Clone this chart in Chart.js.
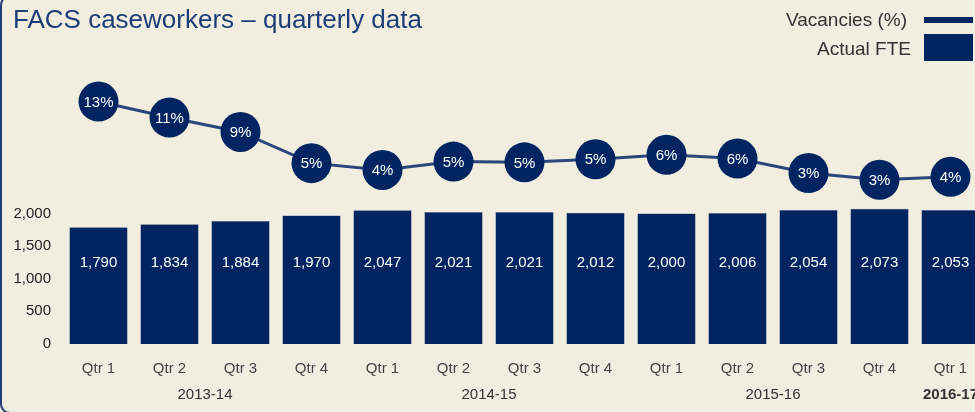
<!DOCTYPE html>
<html>
<head>
<meta charset="utf-8">
<script src="https://cdn.jsdelivr.net/npm/chart.js@4/dist/chart.umd.min.js"></script>
<style>
  html, body { margin: 0; padding: 0; background: #f1eedf; overflow: hidden; }
  #wrap { width: 975px; height: 412px; overflow: hidden; position: relative; }
  canvas { display: block; }
</style>
</head>
<body>
<div id="wrap"><canvas id="c" width="1006" height="412"></canvas></div>
<script>
const quarters = ['Qtr 1','Qtr 2','Qtr 3','Qtr 4','Qtr 1','Qtr 2','Qtr 3','Qtr 4','Qtr 1','Qtr 2','Qtr 3','Qtr 4','Qtr 1'];
const fiscalYears = ['2013-14','2014-15','2015-16','2016-17'];
const fiscalYearSpans = [[0,3],[4,7],[8,11],[12,12]];
const actualFTE = [1790,1834,1884,1970,2047,2021,2021,2012,2000,2006,2054,2073,2053];
const vacancies = [13.0,10.9,9.0,4.9,4.0,5.1,5.0,5.4,6.0,5.5,3.6,2.7,3.1];
const vacancyLabels = ['13%','11%','9%','5%','4%','5%','5%','5%','6%','6%','3%','3%','4%'];
const fteTicks = [0,500,1000,1500,2000];

const FONT = "'Liberation Sans', Arial, Helvetica, sans-serif";
const NAVY = '#022562';
const LINE = '#2a467c';

const decor = {
  id: 'decor',
  beforeDraw(chart) {
    const ctx = chart.ctx;
    ctx.save();
    ctx.fillStyle = '#f1eedf';
    ctx.fillRect(0, 0, chart.width, chart.height);
    ctx.strokeStyle = '#1d3c78';
    ctx.lineWidth = 2;
    ctx.beginPath();
    ctx.roundRect(1, -4, 1300, 417, 9);
    ctx.stroke();
    ctx.restore();
  },
  afterDraw(chart) {
    const ctx = chart.ctx;
    const x = chart.scales.x;
    ctx.save();
    ctx.font = '26px ' + FONT;
    ctx.fillStyle = '#1d3c78';
    ctx.textAlign = 'left';
    ctx.textBaseline = 'alphabetic';
    ctx.fillText('FACS caseworkers \u2013 quarterly data', 13, 28);
    ctx.font = '19px ' + FONT;
    ctx.fillStyle = '#333333';
    ctx.textAlign = 'right';
    ctx.textBaseline = 'middle';
    ctx.fillText(chart.data.datasets[0].label, 907, 21);
    ctx.fillText(chart.data.datasets[1].label, 911, 50);
    ctx.fillStyle = NAVY;
    ctx.fillRect(924, 17, 49, 6);
    ctx.fillRect(924, 34, 49, 27);
    ctx.fillStyle = '#333333';
    ctx.textAlign = 'center';
    fiscalYears.forEach((yr, i) => {
      const [a, b] = fiscalYearSpans[i];
      const cx = (x.getPixelForValue(a) + x.getPixelForValue(b)) / 2;
      ctx.font = (i === fiscalYears.length - 1 ? 'bold ' : '') + '15px ' + FONT;
      ctx.fillText(yr, cx, 395);
    });
    ctx.restore();
  },
  afterDatasetsDraw(chart) {
    const ctx = chart.ctx;
    ctx.save();
    ctx.fillStyle = '#ffffff';
    ctx.font = '15px ' + FONT;
    ctx.textAlign = 'center';
    ctx.textBaseline = 'middle';
    const y = chart.scales.y;
    const barMeta = chart.getDatasetMeta(1);
    barMeta.data.forEach((el, i) => {
      ctx.fillText(actualFTE[i].toLocaleString('en-US'), el.x, y.getPixelForValue(1250));
    });
    const lineMeta = chart.getDatasetMeta(0);
    lineMeta.data.forEach((el, i) => {
      ctx.fillText(vacancyLabels[i], el.x, el.y + 1);
    });
    ctx.restore();
  }
};

new Chart(document.getElementById('c'), {
  data: {
    labels: quarters,
    datasets: [
      {
        type: 'line',
        label: 'Vacancies (%)',
        data: vacancies,
        yAxisID: 'y2',
        borderColor: LINE,
        borderWidth: 3,
        pointRadius: 20,
        pointHoverRadius: 20,
        pointBackgroundColor: NAVY,
        pointBorderColor: NAVY,
        pointBorderWidth: 0,
        tension: 0,
        order: 0
      },
      {
        type: 'bar',
        label: 'Actual FTE',
        data: actualFTE,
        yAxisID: 'y',
        backgroundColor: NAVY,
        borderColor: '#4a5f8a',
        borderWidth: 0.6,
        categoryPercentage: 1.0,
        barPercentage: 0.82,
        order: 1
      }
    ]
  },
  options: {
    responsive: false,
    animation: false,
    layout: { padding: { top: 60, right: 0, left: 0, bottom: 0 } },
    plugins: {
      legend: { display: false },
      title: { display: false },
      tooltip: { enabled: false }
    },
    scales: {
      x: {
        grid: { display: false, drawTicks: false },
        border: { display: false },
        ticks: { color: '#444444', font: { family: FONT, size: 15 }, padding: 16, maxRotation: 0, autoSkip: false },
        afterFit(s) { s.height = 68; }
      },
      y: {
        position: 'left',
        min: 0,
        max: 4350,
        grid: { display: false, drawTicks: false },
        border: { display: false },
        afterBuildTicks(s) { s.ticks = fteTicks.map(v => ({ value: v })); },
        ticks: {
          color: '#222222',
          font: { family: FONT, size: 15 },
          padding: 12,
          callback: v => v.toLocaleString('en-US')
        },
        afterFit(s) { s.width = 63; }
      },
      y2: {
        display: false,
        min: -18.9,
        max: 18.47
      }
    }
  },
  plugins: [decor]
});
</script>
</body>
</html>
